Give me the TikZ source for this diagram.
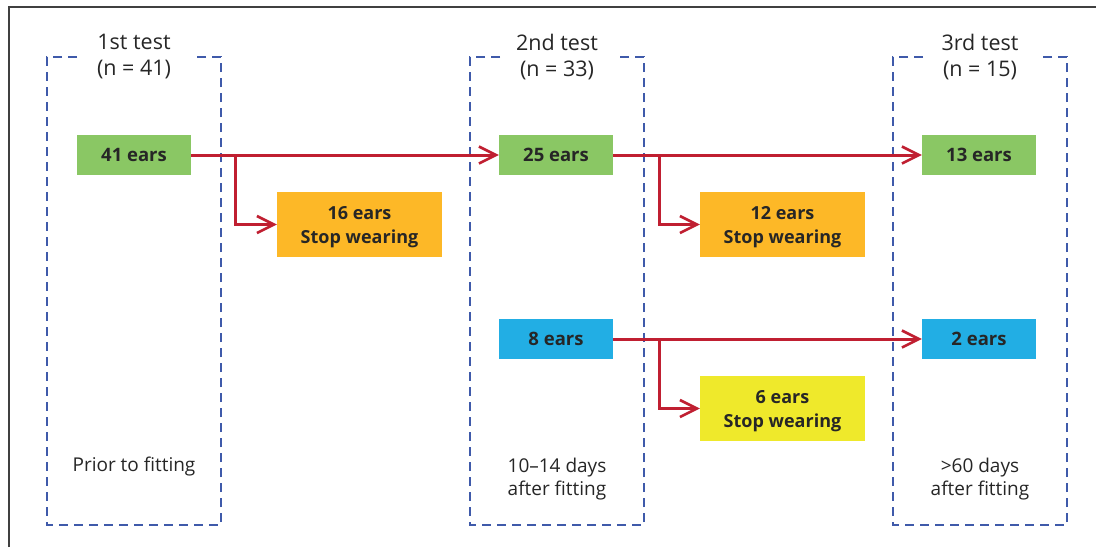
\documentclass[tikz,border=0pt]{standalone}
\usepackage{fontspec}
\setmainfont{Open Sans}
\usetikzlibrary{arrows.meta,calc}
\definecolor{cgreen}{HTML}{8AC764}
\definecolor{corange}{HTML}{FDB827}
\definecolor{cblue}{HTML}{22AEE4}
\definecolor{cyellow}{HTML}{EFE92B}
\definecolor{cred}{HTML}{C01F31}
\definecolor{cdash}{HTML}{3F5AAA}
\definecolor{ctext}{HTML}{262626}
\newcommand{\lowstrut}{\rule{0pt}{19pt}}
\tikzset{
  ear/.style={minimum width=114pt,minimum height=40pt,inner sep=0pt,font=\fontsize{18.5}{20}\selectfont\bfseries,text=ctext},
  stopbox/.style={minimum width=165pt,minimum height=65pt,inner sep=0pt,align=center,font=\fontsize{18}{24}\selectfont\bfseries,text=ctext},
  arr/.style={draw=cred,line width=3pt,-{Straight Barb[length=17pt,width=17pt,line width=2.6pt]}},
  grp/.style={draw=cdash,line width=2pt,dash pattern=on 9pt off 6pt},
  title/.style={align=center,font=\fontsize{21.5}{26}\selectfont,text=ctext},
  note/.style={align=center,font=\fontsize{19}{23}\selectfont,text=ctext},
}
\begin{document}
\begin{tikzpicture}[x=1pt,y=-1pt]
\useasboundingbox (0,0) rectangle (1096,547);
\fill[white] (0,0) rectangle (1096,547);
\draw[line width=1.4pt,draw=black!75] (9,547) -- (9,7) -- (1096,7);
% group boxes
\draw[grp] (77,57) -- (47,57) -- (47,525) -- (221,525) -- (221,57) -- (192,57);
\draw[grp] (500,57) -- (470,57) -- (470,525) -- (644,525) -- (644,57) -- (615,57);
\draw[grp] (923,57) -- (893,57) -- (893,525) -- (1067,525) -- (1067,57) -- (1038,57);
\node[title] (t1) at (134,57) {1st test\\(n = 41)};
\node[title] (t2) at (557,57) {2nd test\\(n = 33)};
\node[title] (t3) at (980,57) {3rd test\\(n = 15)};
\node[note] (n1) at (134,467) {Prior to fitting};
\node[note] (n2) at (557,479) {10–14 days\\after fitting};
\node[note] (n3) at (980,479) {>60 days\\after fitting};
% boxes
\node[ear,fill=cgreen] (g1) at (134,155) {41 ears};
\node[ear,fill=cgreen] (g2) at (556,155) {25 ears};
\node[ear,fill=cgreen] (g3) at (979,155) {13 ears};
\node[ear,fill=cblue] (b2) at (556,339) {8 ears};
\node[ear,fill=cblue] (b3) at (979,339) {2 ears};
\node[stopbox,fill=corange] (o1) at (359.5,224.5) {\lowstrut 16 ears\\Stop wearing};
\node[stopbox,fill=corange] (o2) at (782.5,224.5) {\lowstrut 12 ears\\Stop wearing};
\node[stopbox,fill=cyellow] (y2) at (782.5,408.5) {\lowstrut 6 ears\\Stop wearing};
% connectors
\coordinate (s1) at (235,156);
\coordinate (s2) at (659,156);
\coordinate (s3) at (659,339);
\draw[arr] (g1.east) -- (g2.west);
\draw[arr] (g2.east) -- (g3.west);
\draw[arr] (b2.east) -- (b3.west);
\draw[arr] (s1) |- (o1.west);
\draw[arr] (s2) |- (o2.west);
\draw[arr] (s3) |- (y2.west);
\end{tikzpicture}
\end{document}
